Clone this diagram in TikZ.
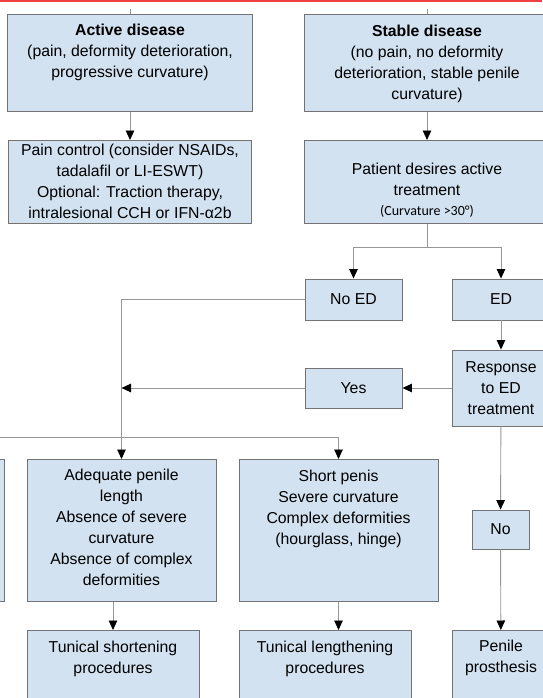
\documentclass[tikz,border=0pt]{standalone}
\usepackage{fontspec}
\setmainfont{Liberation Sans}
\newfontfamily\notefont{Carlito}
\usetikzlibrary{arrows.meta}

\definecolor{boxfill}{RGB}{210,226,240}
\definecolor{boxline}{RGB}{115,115,115}
\definecolor{linkgray}{RGB}{150,150,150}
\definecolor{topred}{RGB}{238,64,64}

\tikzset{
  box/.style={draw=boxline, fill=boxfill, line width=0.9pt, align=center,
    font=\fontsize{15.8}{21}\selectfont, inner xsep=2pt, inner ysep=0pt},
  topbox/.style={box, anchor=north},
  link/.style={draw=linkgray, line width=0.9pt,
    -{Triangle[length=9.5pt,width=8.5pt,color=black,fill=black]}},
  plain/.style={draw=linkgray, line width=0.9pt},
}

\begin{document}
\begin{tikzpicture}[x=1pt,y=-1pt]
  \useasboundingbox (0,0) rectangle (542,698);

  % red rule along the top edge
  \fill[topred] (0,0) rectangle (542,1.6);

  % disease state
  \node[topbox, minimum width=245pt, text height=63.5pt, text depth=33.5pt] (active) at (130,14)
    {\textbf{Active disease}\\(pain, deformity deterioration,\\progressive curvature)};
  \node[topbox, minimum width=246pt, text height=85.5pt, text depth=11.5pt] (stable) at (427,14)
    {\textbf{Stable disease}\\(no pain, no deformity\\deterioration, stable penile\\curvature)};

  % first step
  \node[topbox, minimum width=243pt, text height=78.5pt, text depth=4.5pt] (pain) at (130,140)
    {Pain control (consider NSAIDs,\\tadalafil or LI-ESWT)\\Optional: Traction therapy,\\intralesional CCH or IFN-α2b};
  \node[topbox, minimum width=246pt, text height=75pt, text depth=8pt] (patient) at (427,140)
    {Patient desires active\\treatment\\[-1pt]{\notefont\fontsize{14}{15}\selectfont (Curvature >30°)}};

  % erectile function
  \node[box, minimum width=97pt, minimum height=41pt] (noed) at (353.5,299.5) {No ED};
  \node[box, minimum width=98pt, minimum height=41pt] (ed) at (501,299.5) {ED};
  \node[box, minimum width=98pt, minimum height=76pt] (resp) at (501,388)
    {Response\\to ED\\treatment};
  \node[box, minimum width=97pt, minimum height=40pt] (yes) at (353.5,388) {Yes};

  % penile condition
  \node[topbox, anchor=north east, minimum width=190pt, minimum height=142pt] (leftbox) at (5,459) {};
  \node[topbox, minimum width=189pt, text height=126.5pt, text depth=15.5pt] (adequate) at (121.5,459)
    {Adequate penile\\length\\Absence of severe\\curvature\\Absence of complex\\deformities};
  \node[topbox, minimum width=199pt, text height=85.5pt, text depth=56.5pt] (shortp) at (338.5,459)
    {Short penis\\Severe curvature\\Complex deformities\\(hourglass, hinge)};
  \node[box, minimum width=57pt, minimum height=39pt] (no) at (500.5,529.5) {No};

  % procedures
  \node[topbox, minimum width=172pt, text height=43.5pt, text depth=46.5pt] (tshort) at (113,630)
    {Tunical shortening\\procedures};
  \node[topbox, minimum width=172pt, text height=43.5pt, text depth=46.5pt] (tlong) at (325,630)
    {Tunical lengthening\\procedures};
  \node[topbox, minimum width=98pt, text height=42.5pt, text depth=47.5pt] (penile) at (501,630)
    {Penile\\prosthesis};

  % connectors
  \coordinate (activein) at (130,9);
  \coordinate (stablein) at (427,9);
  \coordinate (split) at (427,247);
  \coordinate (split2) at (-10,437);
  \draw[plain] (activein) -- (active.north);
  \draw[plain] (stablein) -- (stable.north);
  \draw[link] (active) -- (pain);
  \draw[link] (stable) -- (patient);
  \draw[plain] (patient.south) -- (split);
  \draw[link] (split) -| (noed.north);
  \draw[link] (split) -| (ed.north);
  \draw[link] (noed.west) -| (adequate.north);
  \draw[link] (ed) -- (resp);
  \draw[link] (resp) -- (yes);
  \draw[link] (yes.west) -- (yes.west -| adequate.north);
  \draw[link] (split2) -| (shortp.north);
  \draw[link] (resp) -- (no);
  \draw[link] (no) -- (penile);
  \draw[link] (tshort.north |- adequate.south) -- (tshort.north);
  \draw[link] (shortp.south) -- (shortp.south |- tlong.north);
\end{tikzpicture}
\end{document}
